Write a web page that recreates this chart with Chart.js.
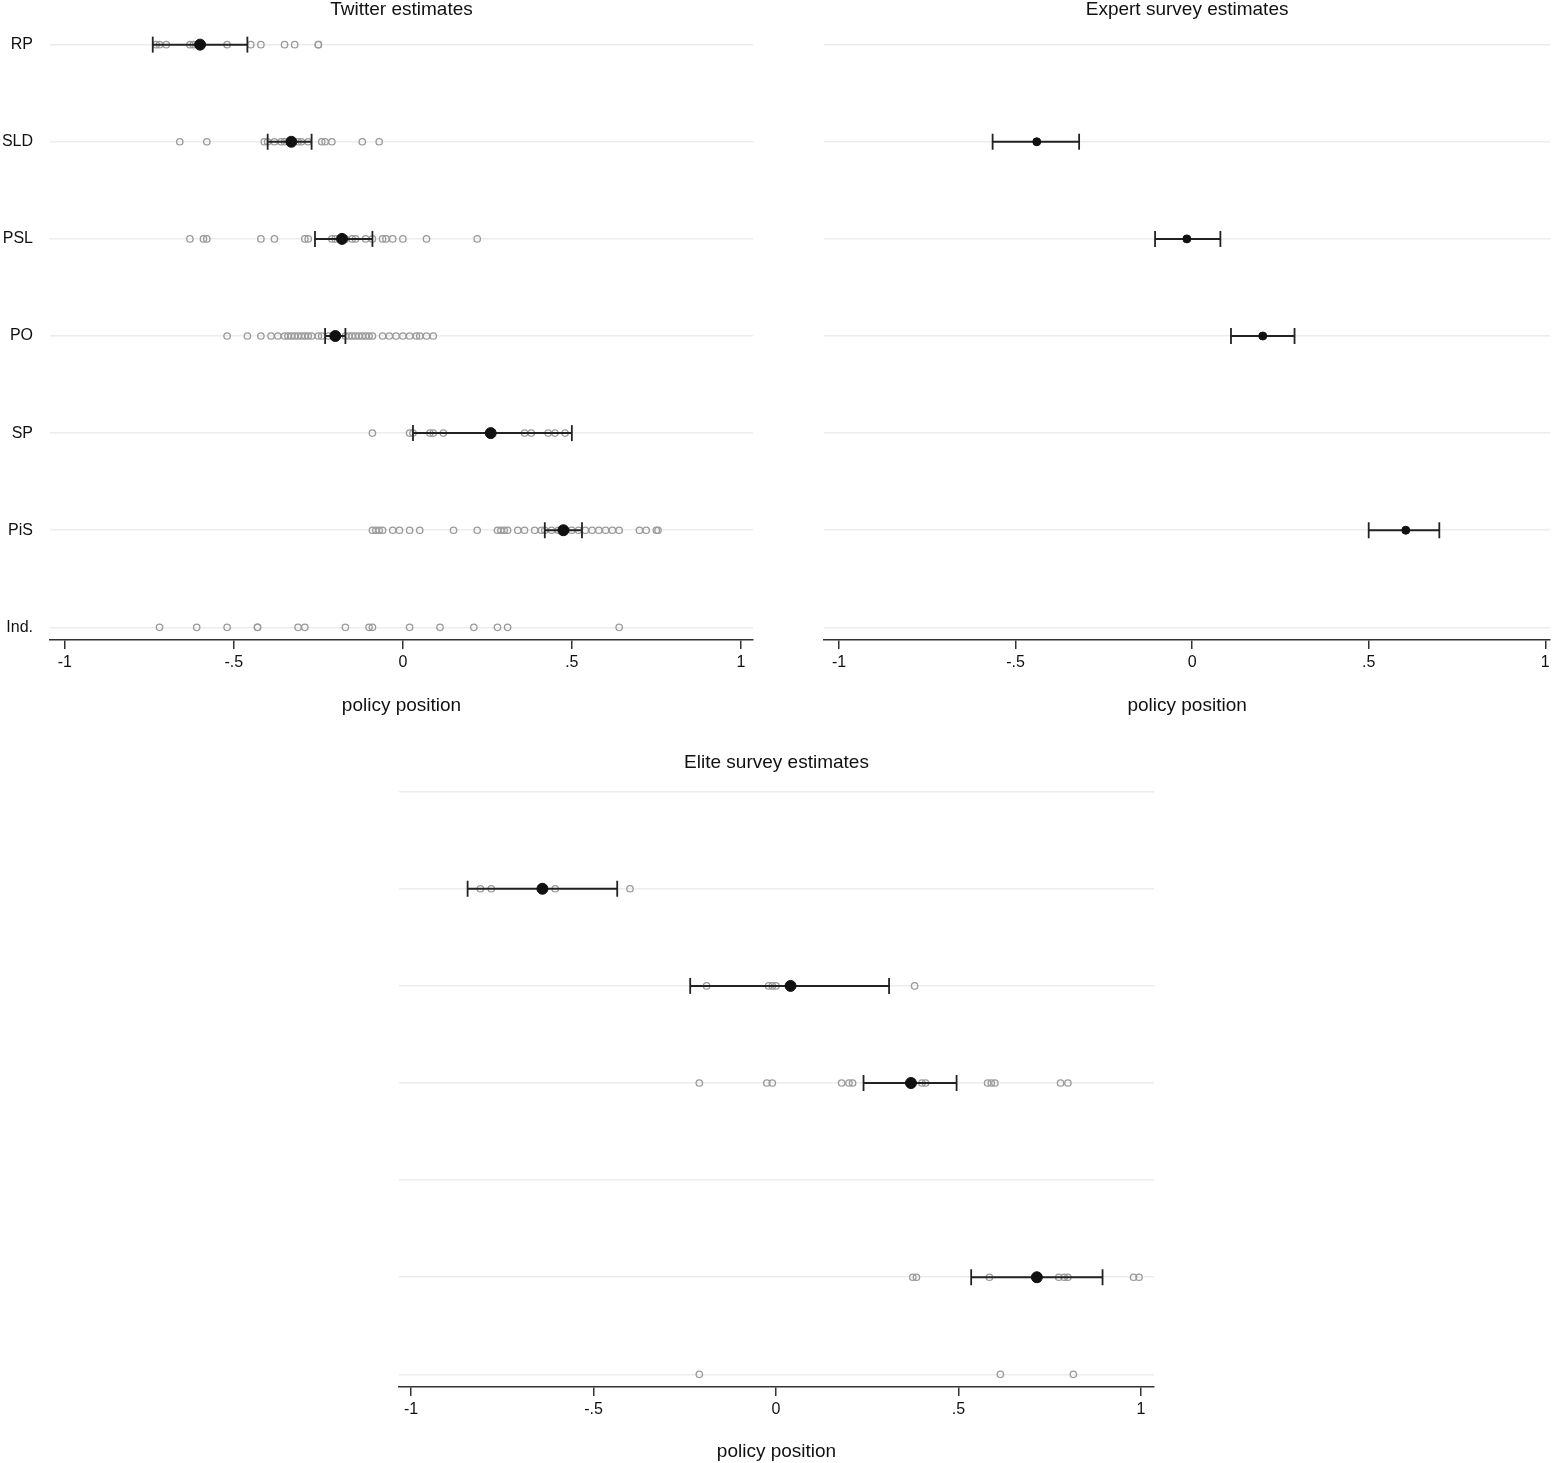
<!DOCTYPE html>
<html><head><meta charset="utf-8">
<script src="https://cdn.jsdelivr.net/npm/chart.js@4"></script>
<style>
body{margin:0;background:#fff;width:1560px;height:1463px;position:relative;font-family:Arial,"Liberation Sans",sans-serif}
canvas{position:absolute}
</style></head><body>
<canvas id="tw" style="left:0;top:0"></canvas>
<canvas id="ex" style="left:770px;top:0"></canvas>
<canvas id="el" style="left:0;top:740px"></canvas>
<script>
const parties = ['RP', 'SLD', 'PSL', 'PO', 'SP', 'PiS', 'Ind.'];
const xTicks = [-1, -0.5, 0, 0.5, 1];
const xTickLabels = ['-1', '-.5', '0', '.5', '1'];

// Twitter estimates: individual politicians, party mean and CI
const twRP = [-0.73, -0.72, -0.70, -0.63, -0.62, -0.52, -0.45, -0.42, -0.35, -0.32, -0.25, -0.25];
const twSLD = [-0.66, -0.58, -0.41, -0.40, -0.38, -0.36, -0.35, -0.31, -0.30, -0.28, -0.24, -0.23, -0.21, -0.12, -0.07];
const twPSL = [-0.63, -0.59, -0.58, -0.42, -0.38, -0.29, -0.28, -0.21, -0.20, -0.17, -0.15, -0.14, -0.11, -0.09, -0.06, -0.05, -0.03, 0.0, 0.07, 0.22];
const twPO = [-0.52, -0.46, -0.42, -0.39, -0.37, -0.35, -0.34, -0.33, -0.32, -0.31, -0.30, -0.29, -0.28, -0.27, -0.25, -0.24, -0.22,
  -0.17, -0.16, -0.15, -0.14, -0.13, -0.12, -0.11, -0.10, -0.09, -0.06, -0.04, -0.02, 0.0, 0.02, 0.04, 0.05, 0.07, 0.09];
const twSP = [-0.09, 0.02, 0.03, 0.08, 0.09, 0.12, 0.36, 0.38, 0.43, 0.45, 0.48];
const twPiS = [-0.09, -0.08, -0.07, -0.06, -0.03, -0.01, 0.02, 0.05, 0.15, 0.22, 0.28, 0.29, 0.30, 0.31, 0.34, 0.36, 0.39, 0.41, 0.42,
  0.44, 0.46, 0.50, 0.52, 0.54, 0.56, 0.58, 0.60, 0.62, 0.64, 0.70, 0.72, 0.75, 0.755];
const twInd = [-0.72, -0.61, -0.52, -0.43, -0.43, -0.31, -0.29, -0.17, -0.10, -0.09, 0.02, 0.11, 0.21, 0.28, 0.31, 0.64];
const twMean = [-0.60, -0.33, -0.18, -0.20, 0.26, 0.475, null];
const twLo = [-0.74, -0.40, -0.26, -0.23, 0.03, 0.42, null];
const twHi = [-0.46, -0.27, -0.09, -0.17, 0.50, 0.53, null];

// Expert survey estimates
const exMean = [null, -0.44, -0.015, 0.20, null, 0.605, null];
const exLo = [null, -0.565, -0.105, 0.11, null, 0.50, null];
const exHi = [null, -0.32, 0.08, 0.29, null, 0.70, null];

// Elite survey estimates
const elRP = [];
const elSLD = [-0.81, -0.78, -0.605, -0.40];
const elPSL = [-0.19, -0.02, -0.01, 0.0, 0.38];
const elPO = [-0.21, -0.025, -0.01, 0.18, 0.20, 0.21, 0.40, 0.41, 0.58, 0.59, 0.60, 0.78, 0.80];
const elSP = [];
const elPiS = [0.375, 0.385, 0.585, 0.775, 0.79, 0.80, 0.98, 0.995];
const elInd = [-0.21, 0.615, 0.815];
const elMean = [null, -0.64, 0.04, 0.37, null, 0.715, null];
const elLo = [null, -0.845, -0.235, 0.24, null, 0.535, null];
const elHi = [null, -0.435, 0.31, 0.495, null, 0.895, null];

function buildDatasets(pointLists, means, lo, hi, meanR) {
  const ds = [];
  pointLists.forEach((vals, i) => {
    if (!vals.length) return;
    ds.push({data: vals.map(v => ({x: v, y: i})), order: 3, showLine: false,
      pointRadius: 3.2, pointBorderWidth: 1.3, borderColor: '#9a9a9a', backgroundColor: 'rgba(0,0,0,0)'});
  });
  means.forEach((m, i) => {
    if (m === null) return;
    ds.push({data: [{x: lo[i], y: i}, {x: hi[i], y: i}], order: 2, showLine: true,
      borderColor: '#222', borderWidth: 2, pointStyle: 'line', rotation: 90,
      pointRadius: 8, pointBorderWidth: 1.8, pointBorderColor: '#222'});
    ds.push({data: [{x: m, y: i}], order: 1, pointRadius: meanR,
      backgroundColor: '#111', borderColor: '#111'});
  });
  return ds;
}

// panel title centred over the plot area
const panelTitle = {
  id: 'panelTitle',
  afterDraw(chart, args, o) {
    const ctx = chart.ctx, a = chart.chartArea;
    ctx.save();
    ctx.font = '19px Arial';
    ctx.fillStyle = '#111';
    ctx.textAlign = 'center';
    ctx.textBaseline = 'middle';
    ctx.fillText(o.text, (a.left + a.right) / 2, o.y);
    ctx.restore();
  }
};

function makeChart(id, w, h, opts) {
  const c = document.getElementById(id);
  c.width = w; c.height = h; c.style.width = w + 'px'; c.style.height = h + 'px';
  new Chart(c, {
    type: 'scatter',
    data: {datasets: opts.datasets},
    plugins: [panelTitle],
    options: {
      responsive: false, animation: false,
      layout: {padding: {left: 0, right: opts.padRight, top: opts.padTop, bottom: 0}},
      plugins: {
        legend: {display: false}, tooltip: {enabled: false}, title: {display: false},
        panelTitle: {text: opts.title, y: opts.titleY}
      },
      scales: {
        x: {
          type: 'linear', min: opts.xmin, max: opts.xmax,
          afterBuildTicks: s => { s.ticks = xTicks.map(v => ({value: v})); },
          afterFit: s => { s.height = opts.xh; },
          ticks: {color: '#111', font: {size: 16, family: 'Arial'}, padding: 4,
            callback: v => xTickLabels[xTicks.indexOf(v)]},
          grid: {drawOnChartArea: false, drawTicks: true, tickLength: 9, color: '#333', lineWidth: 1.5},
          border: {display: true, color: '#333', width: 1.5},
          title: {display: true, text: 'policy position', color: '#111', font: {size: 19, family: 'Arial'},
            padding: {top: 0, bottom: opts.xTitlePad}}
        },
        y: {
          type: 'linear', reverse: true, min: -0.13, max: 6.13,
          afterBuildTicks: s => { s.ticks = parties.map((p, i) => ({value: i})); },
          afterFit: s => { s.width = opts.yw; },
          ticks: {display: opts.yLabels, color: '#111', font: {size: 16, family: 'Arial'}, padding: 17,
            callback: v => parties[v]},
          grid: {color: '#ececec', lineWidth: 1.5, drawTicks: false},
          border: {display: false}
        }
      }
    }
  });
}

makeChart('tw', 770, 720, {
  title: 'Twitter estimates', titleY: 10, padTop: 32,
  datasets: buildDatasets([twRP, twSLD, twPSL, twPO, twSP, twPiS, twInd], twMean, twLo, twHi, 5.5),
  xmin: -1.044, xmax: 1.036, xh: 80, xTitlePad: 3, yw: 50, yLabels: true, padRight: 17
});
makeChart('ex', 790, 720, {
  title: 'Expert survey estimates', titleY: 10, padTop: 32,
  datasets: buildDatasets([[], [], [], [], [], [], []], exMean, exLo, exHi, 4),
  xmin: -1.0425, xmax: 1.014, xh: 80, xTitlePad: 3, yw: 54, yLabels: false, padRight: 0
});
makeChart('el', 1560, 723, {
  title: 'Elite survey estimates', titleY: 23, padTop: 39,
  datasets: buildDatasets([elRP, elSLD, elPSL, elPO, elSP, elPiS, elInd], elMean, elLo, elHi, 5.5),
  xmin: -1.033, xmax: 1.036, xh: 76, xTitlePad: 0, yw: 399, yLabels: false, padRight: 406
});
</script>
</body></html>
